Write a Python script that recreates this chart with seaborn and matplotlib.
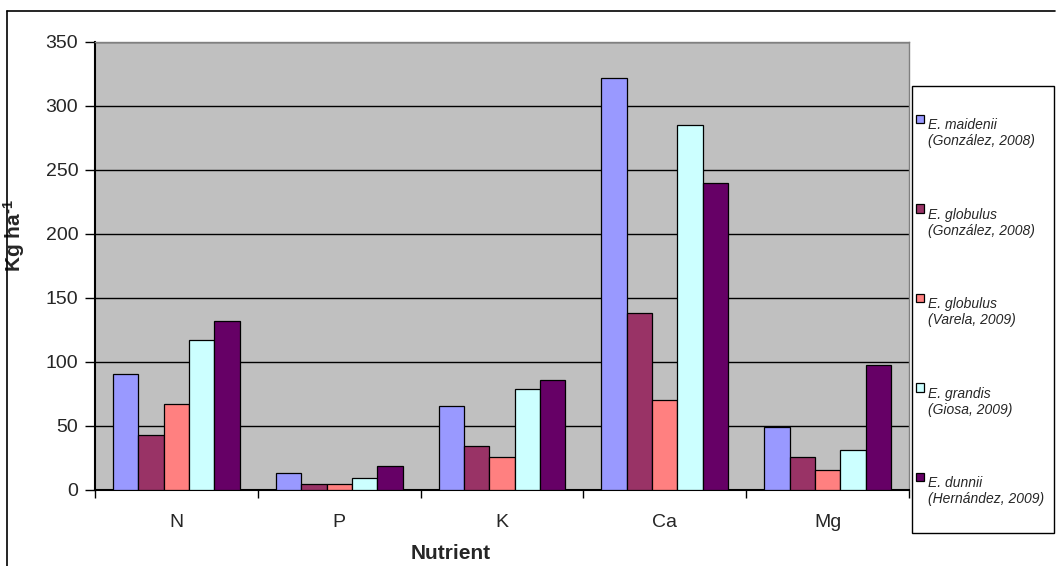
import matplotlib
matplotlib.use("Agg")
import matplotlib.pyplot as plt
import seaborn as sns
import pandas as pd
from matplotlib.lines import Line2D
from matplotlib.patches import Rectangle
from matplotlib.legend_handler import HandlerPatch

nutrients = ["N", "P", "K", "Ca", "Mg"]
series = [
    "E. maidenii\n(González, 2008)",
    "E. globulus\n(González, 2008)",
    "E. globulus\n(Varela, 2009)",
    "E. grandis\n(Giosa, 2009)",
    "E. dunnii\n(Hernández, 2009)",
]
maidenii_gonzalez = [91, 13, 66, 322, 49]
globulus_gonzalez = [43, 5, 34, 138, 26]
globulus_varela = [67, 5, 26, 70, 16]
grandis_giosa = [117, 9, 79, 285, 31]
dunnii_hernandez = [132, 19, 86, 240, 98]
values = [maidenii_gonzalez, globulus_gonzalez, globulus_varela, grandis_giosa, dunnii_hernandez]
colors = ["#9999FF", "#993366", "#FF8080", "#CCFFFF", "#660066"]
yticks = [0, 50, 100, 150, 200, 250, 300, 350]

rows = []
for s, vals in zip(series, values):
    for n, v in zip(nutrients, vals):
        rows.append({"Nutrient": n, "Series": s, "Value": v})
df = pd.DataFrame(rows)

sns.set_theme(style="white")
plt.rcParams["font.family"] = ["Liberation Sans", "DejaVu Sans"]
plt.rcParams["mathtext.fontset"] = "custom"
plt.rcParams["mathtext.rm"] = "Liberation Sans:bold"
plt.rcParams["mathtext.it"] = "Liberation Sans:bold"
plt.rcParams["mathtext.bf"] = "Liberation Sans:bold"

fig = plt.figure(figsize=(10.56, 5.66), dpi=100)
ax = fig.add_axes([95 / 1056, 1 - 490 / 566, 814 / 1056, 448 / 566])
ax.set_facecolor("#C0C0C0")

sns.barplot(data=df, x="Nutrient", y="Value", hue="Series", order=nutrients,
            hue_order=series, palette=colors, width=0.78, edgecolor="black",
            linewidth=0.9, saturation=1, ax=ax, zorder=3)

ax.set_ylim(0, 350)
ax.set_xlim(-0.5, 4.5)
ax.set_yticks(yticks)
ax.set_yticklabels([str(t) for t in yticks], fontsize=14)
ax.yaxis.grid(True, color="black", linewidth=1.0, zorder=1)
ax.set_axisbelow(True)
ax.tick_params(axis="y", direction="out", length=7, width=1, color="black", pad=5, left=True)
ax.set_xticks(range(len(nutrients)))
ax.set_xticklabels(nutrients, fontsize=14)
ax.tick_params(axis="x", which="major", length=0, pad=17)
ax.set_xticks([i - 0.5 for i in range(len(nutrients) + 1)], minor=True)
ax.tick_params(axis="x", which="minor", direction="out", length=6, width=1, color="black", bottom=True)

for side in ["left", "bottom"]:
    ax.spines[side].set_color("black")
    ax.spines[side].set_linewidth(1.5)
for side in ["top", "right"]:
    ax.spines[side].set_color("#808080")
    ax.spines[side].set_linewidth(1.0)

ax.set_xlabel("Nutrient", fontsize=15, fontweight="bold")
ax.xaxis.set_label_coords((451 - 95) / 814, -0.12)
ax.set_ylabel(r"Kg $\mathrm{ha}^{\text{-1}}$", fontsize=15, fontweight="bold")
ax.yaxis.set_label_coords(-0.083, 0.567)

handles, labels = ax.get_legend_handles_labels()
if ax.legend_:
    ax.legend_.remove()

leg_fs = 10


def top_square(legend, orig_handle, xdescent, ydescent, width, height, fontsize):
    return Rectangle((-xdescent, -ydescent + fontsize * 1.05), width, height)


leg = fig.legend(handles, labels, loc="upper left",
                 bbox_to_anchor=(916 / 1056, 1 - 118 / 566), bbox_transform=fig.transFigure,
                 frameon=False, prop={"style": "italic", "size": leg_fs}, labelspacing=4.27,
                 handlelength=0.55, handleheight=0.55, handletextpad=0.35,
                 borderpad=0, borderaxespad=0,
                 handler_map={h: HandlerPatch(patch_func=top_square) for h in handles})
for t in leg.get_texts():
    t.set_linespacing(1.2)

fig.add_artist(Rectangle((912 / 1056, 1 - 533 / 566), 142 / 1056, 447 / 566,
                         transform=fig.transFigure, facecolor="white", edgecolor="black",
                         linewidth=1.0, zorder=0))

fig.add_artist(Line2D([7 / 1056, 1055 / 1056], [1 - 11 / 566, 1 - 11 / 566],
                      transform=fig.transFigure, color="black", linewidth=1.2))
fig.add_artist(Line2D([7 / 1056, 7 / 1056], [1 - 11 / 566, 0],
                      transform=fig.transFigure, color="black", linewidth=1.2))

fig.savefig("out.png", dpi=100)
